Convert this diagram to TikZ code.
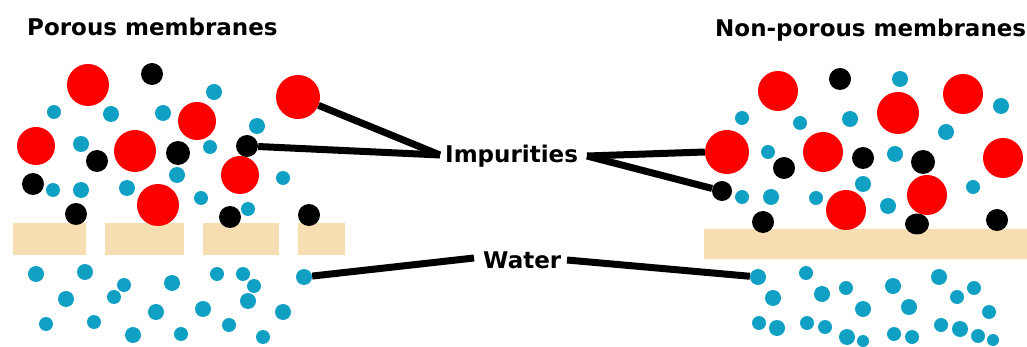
\documentclass[tikz,border=0pt]{standalone}
\usepackage{fontspec}
\setmainfont{DejaVu Sans}
\begin{document}
\begin{tikzpicture}[x=1pt,y=-1pt]
\definecolor{imred}{RGB}{250,0,0}
\definecolor{wblue}{RGB}{16,160,196}
\definecolor{memb}{RGB}{247,221,178}
\tikzset{
  ball/.style={circle, inner sep=0pt, draw=none},
  redball/.style={ball, fill=imred},
  blackball/.style={ball, fill=black},
  waterball/.style={ball, fill=wblue},
  membrane/.style={fill=memb, draw=none},
  conn/.style={draw=black, line width=7pt},
  title/.style={font=\bfseries\fontsize{23}{23}\selectfont, inner sep=0pt, anchor=base west},
  lbl/.style={font=\bfseries\fontsize{23}{23}\selectfont, inner sep=0pt, anchor=base west}
}
\fill[white] (0,0) rectangle (1027,347);
\useasboundingbox (0,0) rectangle (1027,347);

% titles
\node[title] (t1) at (27,36) {Porous membranes};
\node[title] (t2) at (715,37) {Non-porous membranes};

% membranes
\fill[membrane] (13,223) rectangle (86,255);
\fill[membrane] (105,223) rectangle (184,255);
\fill[membrane] (203,223) rectangle (279,255);
\fill[membrane] (298,223) rectangle (345,255);
\fill[membrane] (704,229) rectangle (1027,259);

% red impurities
\foreach \x/\y/\r in {88/85/21,197/121/19,36/146/19,135/151/21,240/175/19,158/205/21,
  778/91/20,963/94/20,898/113/21,823/152/20,1003/158/20,846/210/20,927/195/20}
  \fill[imred] (\x,\y) circle[radius=\r pt];
% black impurities
\foreach \x/\y/\r in {152/74/11,97/161/11,178/153/12,33/184/11,76/214/11,230/217/11,309/215/11,
  840/79/11,863/158/11,923/162/12,784/168/11,763/222/11,997/220/11}
  \fill[black] (\x,\y) circle[radius=\r pt];
\fill[black] (917,224) ellipse[x radius=12pt, y radius=10.5pt];
% water above membranes
\foreach \x/\y/\r in {214/92/8,54/112/7,111/114/8,163/113/8,257/126/8,81/144/8,210/147/7,283/178/7,
  177/175/8,53/190/7,81/190/8,127/188/8,201/198/7,248/209/7,
  900/79/8,1001/106/8,742/118/7,800/123/7,850/119/8,946/132/8,768/152/7,895/154/8,
  742/197/7,771/197/8,816/198/7,863/184/8,888/206/8,973/187/7}
  \fill[wblue] (\x,\y) circle[radius=\r pt];
% water below membranes
\foreach \x/\y/\r in {36/274/8,85/272/8,124/285/7,114/297/7,66/299/8,172/283/8,217/274/7,243/274/7,
  254/286/7,248/301/8,156/312/8,203/309/8,283/312/8,46/324/7,94/322/7,229/325/7,133/335/8,181/334/7,263/337/7,
  806/273/7,773/298/8,822/294/8,846/288/7,863/309/8,893/286/8,909/307/8,939/277/8,957/297/7,974/288/7,
  989/312/7,759/323/7,777/328/8,807/323/7,825/327/7,847/337/8,863/341/6,894/334/7,912/337/7,941/325/7,
  960/329/8,978/336/7,993/340/6}
  \fill[wblue] (\x,\y) circle[radius=\r pt];

% labelled particles
\node[redball, minimum size=44pt] (r1) at (298,97) {};
\node[blackball, minimum size=22pt] (b1) at (247,146) {};
\node[redball, minimum size=44pt] (r2) at (727,152) {};
\node[blackball, minimum size=20pt] (b2) at (722,191) {};
\node[waterball, minimum size=16pt] (w1) at (304,277) {};
\node[waterball, minimum size=16pt] (w2) at (758,277) {};

% labels
\node[lbl] (imp) at (445,163) {Impurities};
\node[lbl] (wat) at (483,268) {Water};

\coordinate (impL) at (440,155);
\coordinate (impR) at (587,156);
\coordinate (watL) at (474,258);
\coordinate (watR) at (567,260);

\draw[conn] (r1) -- (impL);
\draw[conn] (b1) -- (impL);
\draw[conn] (impR) -- (r2.west);
\draw[conn] (impR) -- (b2);
\draw[conn] (w1) -- (watL);
\draw[conn] (watR) -- (w2);
\end{tikzpicture}
\end{document}
